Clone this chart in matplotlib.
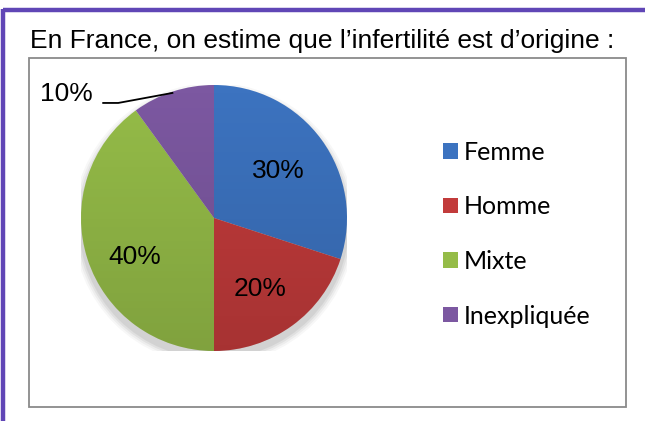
import numpy as np
import matplotlib
matplotlib.use("Agg")
import matplotlib.pyplot as plt
from matplotlib.patches import Rectangle, Circle
from matplotlib.lines import Line2D

# ---- data ----
title = "En France, on estime que l\u2019infertilit\u00e9 est d\u2019origine :"
categories = ["Femme", "Homme", "Mixte", "Inexpliqu\u00e9e"]
values = [30, 20, 40, 10]
pct_labels = ["30%", "20%", "40%", "10%"]
colors = ["#3C73C0", "#C23B3B", "#95BC48", "#7C58A1"]

W, H = 645, 421
fig = plt.figure(figsize=(W / 100, H / 100), dpi=100)
fig.patch.set_facecolor("white")

def fx(px):
    return px / W

def fy(py):
    return 1 - py / H

# purple frame (top and left)
purple = "#6046B6"
fig.add_artist(Line2D([fx(3), 1], [fy(10), fy(10)], color=purple, lw=3.2,
                      solid_capstyle="butt", transform=fig.transFigure))
fig.add_artist(Line2D([fx(3), fx(3)], [fy(8.5), 0], color=purple, lw=3.2,
                      solid_capstyle="butt", transform=fig.transFigure))

# gray chart frame
fig.add_artist(Rectangle((fx(29), fy(407)), fx(626) - fx(29), fy(58) - fy(407),
                         fill=False, edgecolor="#8A8A8A", lw=1.3,
                         transform=fig.transFigure))

# title
fig.text(fx(30), fy(48), title, fontsize=19, family="Liberation Sans",
         ha="left", va="baseline", color="black")

# pie axes: center (214,218), radius 133 px
cx, cy, R = 214, 218, 133
ax = fig.add_axes([fx(cx - R), fy(cy + R), 2 * R / W, 2 * R / H])

# soft shadow
for rr, a in [(1.06, 0.03), (1.045, 0.04), (1.03, 0.05), (1.015, 0.06)]:
    ax.add_patch(Circle((0, -0.045), rr, color="black", alpha=a, lw=0, zorder=0))

wedges, _ = ax.pie(values, colors=colors, startangle=90, counterclock=False,
                   radius=1, wedgeprops=dict(linewidth=0), frame=False)
ax.set_xlim(-1, 1)
ax.set_ylim(-1, 1)
ax.set_aspect("auto")
ax.axis("off")

# subtle gradient shading
shade = np.zeros((256, 1, 4))
shade[..., 3] = np.linspace(0.0, 0.14, 256).reshape(-1, 1)
img = ax.imshow(shade, extent=(-1, 1, -1, 1), origin="upper", zorder=5,
                aspect="auto", interpolation="bilinear")
img.set_clip_path(Circle((0, 0), 1, transform=ax.transData))
ax.set_xlim(-1, 1)
ax.set_ylim(-1, 1)

# percentage labels
angles = []
start = 90.0
total = sum(values)
for v in values:
    span = 360.0 * v / total
    angles.append(np.deg2rad(start - span / 2))
    start -= span

label_r = [0.60, 0.64, 0.66]
label_shift = [0.0, -0.05, 0.14]
for i in range(3):
    a = angles[i] + label_shift[i]
    ax.text(label_r[i] * np.cos(a), label_r[i] * np.sin(a), pct_labels[i],
            fontsize=19, family="Liberation Sans", ha="center", va="center",
            zorder=10)

# outside label with leader line for the last slice
a = angles[3]
ex, ey = 0.99 * np.cos(a), 0.99 * np.sin(a)
ax.plot([-0.84, -0.72, ex], [0.865, 0.865, ey], color="black", lw=1.3,
        clip_on=False, zorder=10, solid_capstyle="butt")
ax.text(-1.11, 0.93, pct_labels[3], fontsize=19, family="Liberation Sans",
        ha="center", va="center", zorder=10, clip_on=False)

# legend
leg = fig.legend(wedges, categories, loc="upper left",
                 bbox_to_anchor=(fx(443), fy(141)), frameon=False,
                 prop=dict(family="Lato", size=18), handlelength=0.58,
                 handleheight=0.58, handletextpad=0.25, labelspacing=1.26,
                 borderaxespad=0, borderpad=0)

fig.savefig("out.png", dpi=100, facecolor="white")
